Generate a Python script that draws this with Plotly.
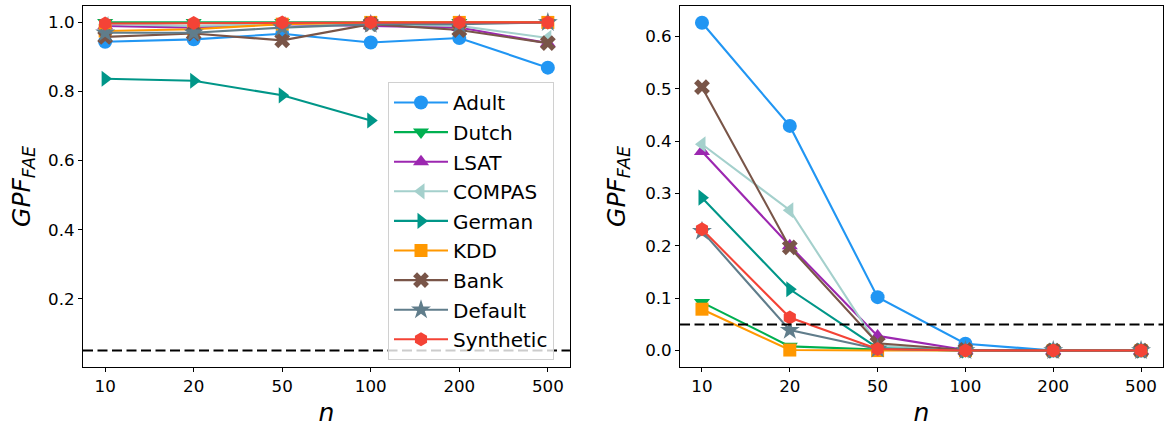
import plotly.graph_objects as go

# ---------------- data ----------------
n_labels = ["10", "20", "50", "100", "200", "500"]
series_names = ["Adult", "Dutch", "LSAT", "COMPAS", "German", "KDD", "Bank", "Default", "Synthetic"]

# left panel
left_adult = [0.944, 0.951, 0.967, 0.942, 0.955, 0.869]
left_dutch = [1.0, 1.0, 1.0, 0.998, 1.0, 1.0]
left_lsat = [0.99, 0.985, 0.995, 0.99, 0.985, 0.94]
left_compas = [0.995, 0.99, 0.995, 0.995, 0.99, 0.955]
left_german = [0.837, 0.831, 0.789, 0.716, None, None]
left_kdd = [0.975, 0.98, 0.995, 1.0, 1.0, 1.0]
left_bank = [0.958, 0.968, 0.948, 0.995, 0.978, 0.94]
left_default = [0.97, 0.97, 0.985, 0.995, 0.995, 1.0]
left_synthetic = [0.997, 0.998, 1.0, 1.0, 1.0, 1.0]

# right panel
right_adult = [0.626, 0.429, 0.102, 0.013, 0.0, 0.0]
right_dutch = [0.092, 0.008, 0.002, 0.0, 0.0, 0.0]
right_lsat = [0.38, 0.2, 0.028, 0.001, 0.0, 0.0]
right_compas = [0.394, 0.268, 0.01, 0.0, 0.0, 0.0]
right_german = [0.292, 0.117, 0.005, 0.0, 0.0, 0.0]
right_kdd = [0.079, 0.001, 0.0, 0.0, 0.0, 0.0]
right_bank = [0.503, 0.197, 0.014, 0.001, 0.0, 0.0]
right_default = [0.228, 0.039, 0.003, 0.0, 0.0, 0.0]
right_synthetic = [0.2315, 0.063, 0.003, 0.0, 0.0, 0.0]

threshold = 0.05

left_values = [left_adult, left_dutch, left_lsat, left_compas, left_german,
               left_kdd, left_bank, left_default, left_synthetic]
right_values = [right_adult, right_dutch, right_lsat, right_compas, right_german,
                right_kdd, right_bank, right_default, right_synthetic]

# ---------------- styles ----------------
colors = ["#2196F3", "#00B050", "#9C27B0", "#A4D0CC", "#009688",
          "#FF9800", "#795548", "#607D8B", "#F44336"]
symbols = ["circle", "triangle-down", "triangle-up", "triangle-left", "triangle-right",
           "square", "x", "star", "hexagon"]
sizes = [14, 14, 14, 14, 14, 13, 14, 15, 14]

FONT = "DejaVu Sans"
fig = go.Figure()

for i, name in enumerate(series_names):
    common = dict(
        mode="lines+markers",
        line=dict(color=colors[i], width=2.1),
        marker=dict(symbol=symbols[i], size=sizes[i], color=colors[i], line=dict(width=0)),
        name=name,
        legendgroup=name,
    )
    fig.add_trace(go.Scatter(x=n_labels, y=left_values[i], xaxis="x", yaxis="y",
                             showlegend=True, connectgaps=False, **common))
    fig.add_trace(go.Scatter(x=n_labels, y=right_values[i], xaxis="x2", yaxis="y2",
                             showlegend=False, **common))

dash_line = dict(color="black", width=2, dash="10px,4.5px")
fig.add_shape(type="line", xref="x domain", x0=0, x1=1, yref="y", y0=threshold, y1=threshold,
              line=dash_line)
fig.add_shape(type="line", xref="x2 domain", x0=0, x1=1, yref="y2", y0=threshold, y1=threshold,
              line=dash_line)

axis_common = dict(
    showline=True, mirror=True, linecolor="black", linewidth=1,
    ticks="outside", ticklen=4, tickwidth=1, tickcolor="black",
    tickfont=dict(family=FONT, size=16.7, color="black"),
    showgrid=False, zeroline=False, automargin=False,
)
ytitle = dict(text="<i>GPF</i><sub><i>FAE</i></sub>", font=dict(family=FONT, size=25, color="black"))
xtitle = dict(text="<i>n</i>", font=dict(family=FONT, size=25, color="black"), standoff=8)

fig.update_layout(
    width=1165, height=428,
    margin=dict(l=83, r=2, t=6, b=61),
    paper_bgcolor="white", plot_bgcolor="white",
    font=dict(family=FONT, color="black"),
    xaxis=dict(domain=[0, 0.4509], type="category", range=[-0.25, 5.25], anchor="y",
               title=xtitle, **axis_common),
    yaxis=dict(domain=[0, 1], range=[0.0025, 1.0475], anchor="x",
               tickvals=[0.2, 0.4, 0.6, 0.8, 1.0], tickformat=".1f",
               title=dict(standoff=10, **ytitle), **axis_common),
    xaxis2=dict(domain=[0.5528, 1], type="category", range=[-0.25, 5.25], anchor="y2",
                title=xtitle, **axis_common),
    yaxis2=dict(domain=[0, 1], range=[-0.0314, 0.658], anchor="x2",
                dtick=0.1, tick0=0, tickformat=".1f",
                title=dict(standoff=12, **ytitle), **axis_common),
    legend=dict(
        x=(388 - 83) / 1080, y=(367 - 82) / 361, xanchor="left", yanchor="top",
        xref="paper", yref="paper",
        bgcolor="rgba(255,255,255,0.8)", bordercolor="#d0d0d0", borderwidth=1,
        font=dict(family=FONT, size=20, color="black"),
        traceorder="grouped", tracegroupgap=0.6, itemwidth=54,
    ),
    showlegend=True,
)

fig.write_html("out.html")
